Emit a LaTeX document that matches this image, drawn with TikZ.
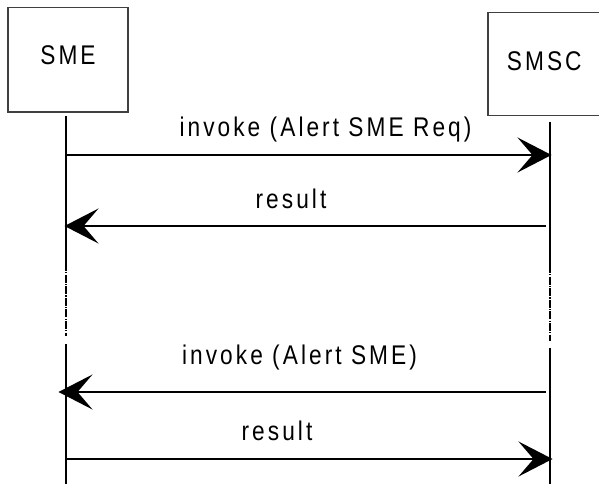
\documentclass[tikz,border=0pt]{standalone}
\usepackage{fontspec}
\setmainfont{Liberation Sans}[FakeStretch=0.84,LetterSpace=11.3]
\usetikzlibrary{arrows.meta}
\begin{document}
\begin{tikzpicture}[x=1pt,y=-1pt,
  font=\fontsize{27}{31}\selectfont,
  entity/.style={draw=black!75,line width=1.2pt,rectangle,inner sep=0pt},
  lifeline/.style={line width=2pt},
  brokenline/.style={line width=2pt,dash pattern=on 8pt off 1.2pt on 1.2pt off 1.2pt},
  msg/.style={line width=2.2pt,-{Stealth[length=34pt,width=35pt,inset=15pt]}},
  msglabel/.style={anchor=base,inner sep=0pt}]
\useasboundingbox (0,0) rectangle (599,484);
% entities
\node[entity,minimum width=120pt,minimum height=104.5pt,text height=9.1pt,text depth=0pt] (sme) at (68,59.75) {SME};
\node[entity,minimum width=112.5pt,minimum height=103.4pt,text height=14pt,text depth=0pt] (smsc) at (544.25,64) {SMSC};
% lifeline points
\coordinate (a1) at (66,116);
\coordinate (a2) at (66,263);
\coordinate (a3) at (66,336);
\coordinate (a4) at (66,344);
\coordinate (a5) at (66,484);
\coordinate (b1) at (550,121.7);
\coordinate (b2) at (550,265);
\coordinate (b3) at (550,340.7);
\coordinate (b4) at (550,347.7);
\coordinate (b5) at (550,484);
\draw[lifeline] (a1) -- (a2);
\draw[brokenline] (a2) -- (a3);
\draw[lifeline] (a4) -- (a5);
\draw[lifeline] (b1) -- (b2);
\draw[brokenline] (b2) -- (b3);
\draw[lifeline] (b4) -- (b5);
% message end points
\coordinate (m1s) at (66,155);   \coordinate (m1e) at (551.5,155);
\coordinate (m2s) at (545.5,226); \coordinate (m2e) at (64.5,226);
\coordinate (m3s) at (545.5,392); \coordinate (m3e) at (58.5,392);
\coordinate (m4s) at (66,459);   \coordinate (m4e) at (552.5,459);
\draw[msg] (m1s) -- (m1e);
\draw[msg] (m2s) -- (m2e);
\draw[msg] (m3s) -- (m3e);
\draw[msg] (m4s) -- (m4e);
% labels
\node[msglabel] (t1) at (325.5,136) {invoke (Alert SME Req)};
\node[msglabel] (t2) at (291,208) {result};
\node[msglabel] (t3) at (299.5,364) {invoke (Alert SME)};
\node[msglabel] (t4) at (277,440) {result};
\end{tikzpicture}
\end{document}
